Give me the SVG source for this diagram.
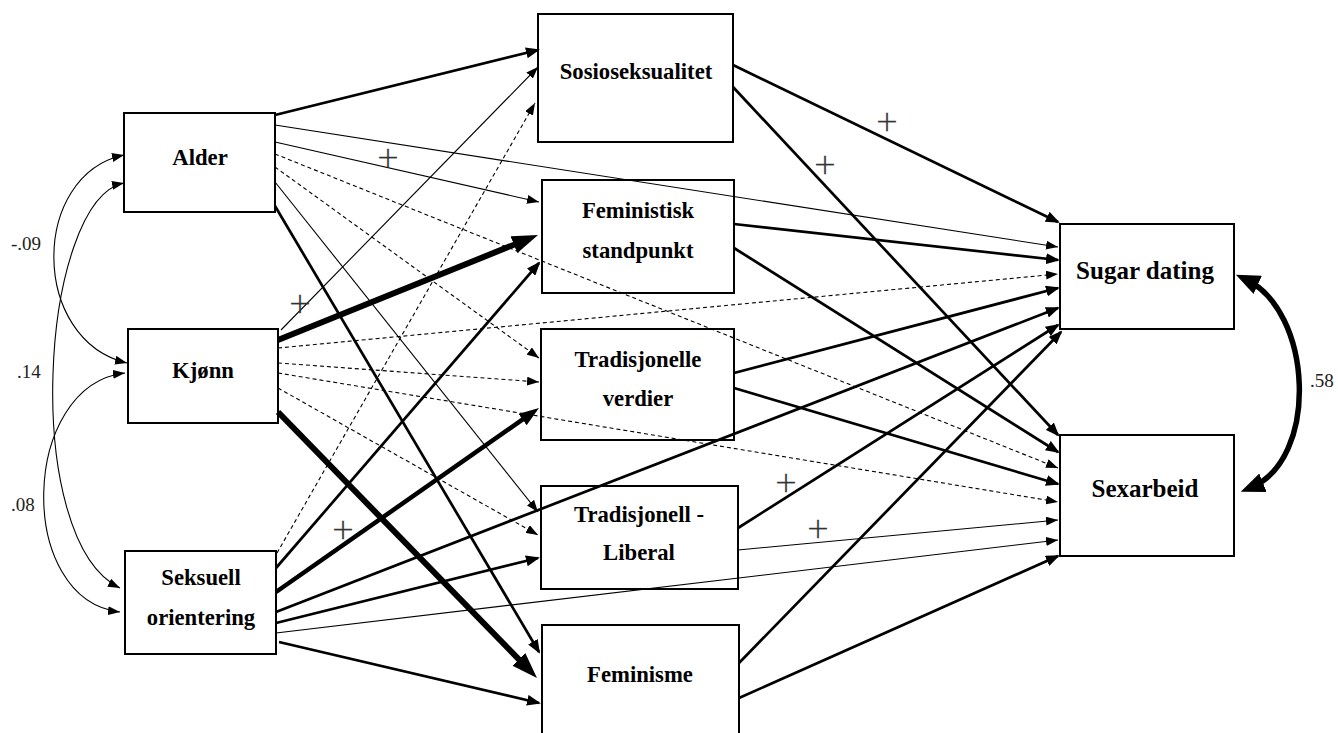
<svg xmlns="http://www.w3.org/2000/svg" width="1338" height="733" viewBox="0 0 1338 733">
<style>
.box{fill:#fff;stroke:#000;stroke-width:2}
.t{font-family:"Liberation Serif","Times New Roman",serif;font-weight:bold;font-size:22.7px;text-anchor:middle;fill:#000}
.tr{font-size:25px}
.num{font-family:"Liberation Serif","Times New Roman",serif;font-size:19px;fill:#222}
.plus{font-family:"DejaVu Sans",sans-serif;font-weight:200;font-size:28px;fill:#333;stroke:#333;stroke-width:0.35;text-anchor:middle}
.c{fill:none;stroke:#000}
.thin{stroke-width:1.1;marker-end:url(#aS)}
.dash{stroke-width:1.1;stroke-dasharray:4 3;marker-end:url(#aS)}
.thick{stroke-width:2.7;marker-end:url(#aM)}
.vthick{stroke-width:6;marker-end:url(#aL)}
.mthick{stroke-width:4.5;marker-end:url(#aL2)}
.cov{stroke-width:1.1;marker-start:url(#aSr);marker-end:url(#aSr)}
.cov2{stroke-width:5.5;marker-start:url(#aC);marker-end:url(#aC)}
</style>
<defs>
<marker id="aS" markerUnits="userSpaceOnUse" markerWidth="12" markerHeight="9" refX="12" refY="4.5" orient="auto"><path d="M0,0 L12,4.5 L0,9 z" fill="#000"/></marker>
<marker id="aSr" markerUnits="userSpaceOnUse" markerWidth="12" markerHeight="9" refX="12" refY="4.5" orient="auto-start-reverse"><path d="M0,0 L12,4.5 L0,9 z" fill="#000"/></marker>
<marker id="aM" markerUnits="userSpaceOnUse" markerWidth="14" markerHeight="11" refX="12" refY="5.5" orient="auto"><path d="M0,0 L14,5.5 L0,11 z" fill="#000"/></marker>
<marker id="aL2" markerUnits="userSpaceOnUse" markerWidth="20" markerHeight="14" refX="11" refY="7" orient="auto"><path d="M0,0 L20,7 L0,14 z" fill="#000"/></marker>
<marker id="aL" markerUnits="userSpaceOnUse" markerWidth="26" markerHeight="18" refX="14" refY="9" orient="auto"><path d="M0,0 L26,9 L0,18 z" fill="#000"/></marker>
<marker id="aC" markerUnits="userSpaceOnUse" markerWidth="24" markerHeight="20" refX="14" refY="10" orient="auto-start-reverse"><path d="M0,0 L24,10 L0,20 z" fill="#000"/></marker>
</defs>
<rect width="1338" height="733" fill="#fff"/>

<g id="alder"><rect class="box" x="124" y="113" width="151" height="99"/><text class="t" x="200" y="165">Alder</text></g>
<g id="kjonn"><rect class="box" x="128" y="329" width="150" height="94"/><text class="t" x="203" y="378">Kjønn</text></g>
<g id="seksuell"><rect class="box" x="125" y="551" width="151" height="103"/><text class="t" x="201" y="585">Seksuell</text><text class="t" x="201" y="625">orientering</text></g>
<g id="sosio"><rect class="box" x="538" y="14" width="195" height="128"/><text class="t" x="636" y="79">Sosioseksualitet</text></g>
<g id="feministisk"><rect class="box" x="542" y="180" width="192" height="113"/><text class="t" x="638" y="218">Feministisk</text><text class="t" x="638" y="258">standpunkt</text></g>
<g id="tradverdier"><rect class="box" x="541" y="329" width="193" height="111"/><text class="t" x="638" y="367">Tradisjonelle</text><text class="t" x="638" y="406">verdier</text></g>
<g id="tradlib"><rect class="box" x="541" y="486" width="197" height="103"/><text class="t" x="639" y="522">Tradisjonell -</text><text class="t" x="639" y="560">Liberal</text></g>
<g id="feminisme"><rect class="box" x="542" y="625" width="197" height="120"/><text class="t" x="640" y="682">Feminisme</text></g>
<g id="sugar"><rect class="box" x="1060" y="224" width="174" height="105"/><text class="t tr" x="1145" y="279">Sugar dating</text></g>
<g id="sexarbeid"><rect class="box" x="1060" y="435" width="174" height="121"/><text class="t tr" x="1145" y="497">Sexarbeid</text></g>

<g id="connectors">
<line class="c thick" x1="275" y1="115" x2="538" y2="50"/>
<line class="c thin" x1="275" y1="125" x2="1058" y2="247"/>
<line class="c thin" x1="275" y1="142" x2="539" y2="202"/>
<line class="c dash" x1="275" y1="154" x2="1058" y2="468"/>
<line class="c dash" x1="275" y1="167" x2="539" y2="358"/>
<line class="c thin" x1="275" y1="182" x2="538" y2="512"/>
<line class="c thick" x1="275" y1="206" x2="539" y2="652"/>

<line class="c thin" x1="281" y1="330" x2="538" y2="67"/>
<line class="c vthick" x1="278" y1="340" x2="526.9" y2="239.5"/>
<line class="c dash" x1="278" y1="348" x2="1058" y2="274"/>
<line class="c dash" x1="278" y1="363" x2="539" y2="382"/>
<line class="c dash" x1="278" y1="373" x2="1058" y2="502"/>
<line class="c dash" x1="278" y1="388" x2="538" y2="535"/>
<line class="c vthick" x1="278" y1="412" x2="528.6" y2="669.4"/>

<line class="c dash" x1="277" y1="553" x2="535" y2="103"/>
<line class="c thick" x1="276" y1="568" x2="539" y2="263"/>
<line class="c mthick" x1="276" y1="592" x2="531.6" y2="413.2"/>
<line class="c thick" x1="276" y1="612" x2="1058" y2="308"/>
<line class="c thick" x1="276" y1="623" x2="538" y2="558"/>
<line class="c thin" x1="276" y1="633" x2="1058" y2="540"/>
<line class="c thick" x1="279" y1="642" x2="539" y2="703"/>

<line class="c thick" x1="733" y1="65" x2="1058" y2="222"/>
<line class="c thick" x1="733" y1="87" x2="1058" y2="435"/>
<line class="c thick" x1="734" y1="224" x2="1058" y2="260"/>
<line class="c thick" x1="734" y1="248" x2="1058" y2="452"/>
<line class="c thick" x1="734" y1="373" x2="1058" y2="288"/>
<line class="c thick" x1="734" y1="388" x2="1058" y2="484"/>
<line class="c thick" x1="738" y1="528" x2="1058" y2="325"/>
<line class="c thin" x1="738" y1="550" x2="1058" y2="520"/>
<line class="c thick" x1="739" y1="663" x2="1061" y2="332"/>
<line class="c thick" x1="739" y1="698" x2="1058" y2="556"/>

<path class="c cov" d="M124,155 C30,175 30,340 127,363"/>
<path class="c cov" d="M124,183 C40,200 20,540 120,588"/>
<path class="c cov" d="M125,373 C20,385 15,600 120,612"/>
<path class="c cov2" d="M1245,279 C1313,310 1320,460 1250,488"/>
</g>

<g id="labels">
<text class="num" x="11" y="250">-.09</text>
<text class="num" x="17" y="378">.14</text>
<text class="num" x="11" y="511">.08</text>
<text class="num" x="1310" y="387">.58</text>
<text class="plus" x="388" y="167">+</text>
<text class="plus" x="300" y="313">+</text>
<text class="plus" x="343" y="539">+</text>
<text class="plus" x="887" y="131">+</text>
<text class="plus" x="825" y="174">+</text>
<text class="plus" x="786" y="492">+</text>
<text class="plus" x="818" y="538">+</text>
</g>
</svg>
